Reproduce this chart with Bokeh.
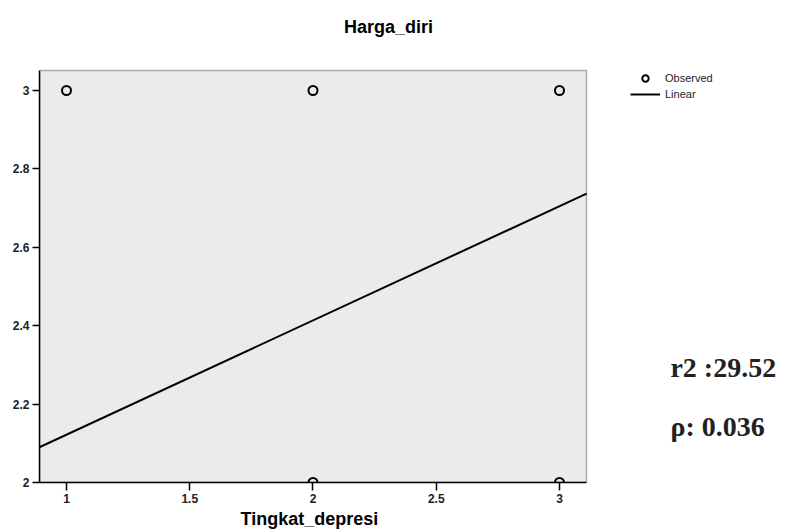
from bokeh.plotting import figure
from bokeh.models import (Range1d, Label, Legend, LegendItem, FixedTicker,
                          BoxAnnotation, Title)
from bokeh.embed import file_html
from bokeh.resources import INLINE

# ---- data ----
depresi_obs = [1, 2, 3, 2, 3]          # Tingkat_depresi (observed)
harga_obs = [3, 3, 3, 2, 2]            # Harga_diri (observed)
linear_x = [0.89, 3.11]                # fitted line, across the axis span
linear_y = [2.09, 2.737]
x_ticks = [1, 1.5, 2, 2.5, 3]
y_ticks = [2, 2.2, 2.4, 2.6, 2.8, 3]
title_text = "Harga_diri"
x_label = "Tingkat_depresi"
stat_texts = ["r2 :29.52", "\u03c1: 0.036"]
legend_labels = ["Observed", "Linear"]

# ---- layout constants ----
FONT = "Liberation Sans"
X_LO, X_HI = 0.8905, 3.1095      # plotting-area span on the x axis
Y_LO, Y_HI = 2.0, 3.051          # plotting-area span on the y axis
X_CANVAS_END = 3.9858            # frame extends to the right edge of the canvas
Y_CANVAS_END = 3.2296            # ... and up to the top edge
TITLE_X, TITLE_Y = 2.306, 3.161
STAT_X = 3.45
STAT_Y = [2.293, 2.143]

p = figure(width=802, height=530, output_backend="svg", toolbar_location=None,
           x_range=Range1d(X_LO, X_CANVAS_END), y_range=Range1d(Y_LO, Y_CANVAS_END),
           min_border_left=39, min_border_right=0, min_border_top=0,
           min_border_bottom=48, title=None)

p.background_fill_color = "white"
p.border_fill_color = "white"
p.outline_line_color = None
p.grid.visible = False

p.add_layout(BoxAnnotation(left=X_LO, right=X_HI, bottom=Y_LO, top=Y_HI,
                           fill_color="#ebebeb", fill_alpha=1.0,
                           line_color="black", line_width=1.5, level="underlay"))

for ax in (p.xaxis[0], p.yaxis[0]):
    ax.axis_line_color = "black"
    ax.axis_line_width = 1.5
    ax.major_tick_line_color = "black"
    ax.major_tick_line_width = 1.5
    ax.major_tick_in = 0
    ax.minor_tick_line_color = None
    ax.major_label_text_font = FONT
    ax.major_label_text_font_style = "bold"
    ax.major_label_text_font_size = "12px"
    ax.major_label_text_color = "#222222"

p.xaxis.bounds = (X_LO, X_HI)
p.yaxis.bounds = (Y_LO, Y_HI)
p.xaxis.ticker = FixedTicker(ticks=x_ticks)
p.yaxis.ticker = FixedTicker(ticks=y_ticks)
p.xaxis.major_label_overrides = {1: "1", 1.5: "1.5", 2: "2", 2.5: "2.5", 3: "3"}
p.yaxis.major_label_overrides = {2: "2", 2.2: "2.2", 2.4: "2.4", 2.6: "2.6", 2.8: "2.8", 3: "3"}
p.xaxis.major_tick_out = 8
p.xaxis.major_label_standoff = 3
p.yaxis.major_tick_out = 7
p.yaxis.major_label_standoff = 3

# chart title, centred as in the reference
p.add_layout(Label(x=TITLE_X, y=TITLE_Y, text=title_text, text_align="center",
                   text_baseline="middle", text_font=FONT, text_font_style="bold",
                   text_font_size="18px", text_color="black"))

# x-axis title, placed under the plotting area (which is narrower than the frame)
p.add_layout(Title(text=x_label, align="left", offset=201, standoff=2,
                   text_font=FONT, text_font_style="bold", text_font_size="18px",
                   text_color="black"), "below")

line_r = p.line(linear_x, linear_y, line_color="black", line_width=2)
obs_r = p.scatter(depresi_obs, harga_obs, marker="circle", size=9,
                  fill_color=None, line_color="black", line_width=2)

legend = Legend(items=[LegendItem(label=legend_labels[0], renderers=[obs_r]),
                       LegendItem(label=legend_labels[1], renderers=[line_r])],
                location=(591, 380), margin=0, padding=0, spacing=0,
                glyph_width=30, glyph_height=16, label_height=16,
                label_standoff=5, label_text_font=FONT,
                label_text_font_size="11px", label_text_color="#222222",
                border_line_alpha=0, background_fill_alpha=0)
p.add_layout(legend)

for t, yy in zip(stat_texts, STAT_Y):
    p.add_layout(Label(x=STAT_X, y=yy, text=t, text_align="left",
                       text_baseline="middle", text_font="Liberation Serif",
                       text_font_style="bold", text_font_size="28px",
                       text_color="#222222"))

open("out.html", "w").write(file_html(p, INLINE))
